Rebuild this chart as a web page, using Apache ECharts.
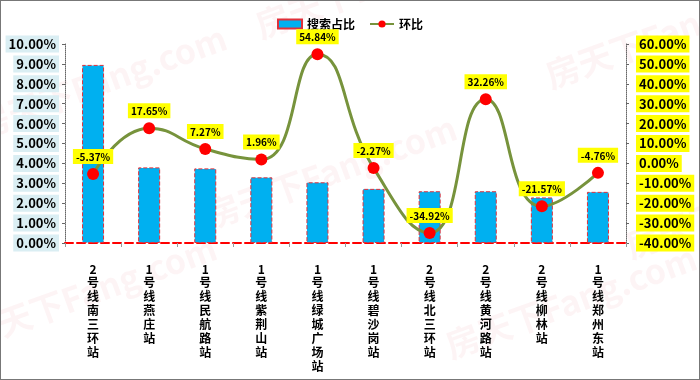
<!DOCTYPE html>
<html><head><meta charset="utf-8">
<script src="https://cdn.jsdelivr.net/npm/echarts@6/dist/echarts.min.js"></script>
<style>html,body{margin:0;padding:0;background:#fff}#c{width:700px;height:380px;box-sizing:border-box;border:1px solid #777}</style>
</head><body><div id="c"></div>
<script>
var categories = ['2号线南三环站','1号线燕庄站','1号线民航路站','1号线紫荆山站','1号线绿城广场站','1号线碧沙岗站','2号线北三环站','2号线黄河路站','2号线柳林站','1号线郑州东站'];
var shareValues = [8.95, 3.80, 3.75, 3.30, 3.05, 2.72, 2.60, 2.60, 2.29, 2.57];
var momValues = [-5.37, 17.65, 7.27, 1.96, 54.84, -2.27, -34.92, 32.26, -21.57, -4.76];
var seriesNames = ['搜索占比', '环比'];

var font = '"Noto Sans CJK SC", "DejaVu Sans", sans-serif';
var chart = echarts.init(document.getElementById('c'));
var wm = [];
var wmPos = [[-30,110],[250,10],[540,60],[200,200],[620,230],[-40,320],[440,330]];
wmPos.forEach(function(p){
  wm.push({type:'text', x:p[0], y:p[1], rotation:0.35, silent:true, z:-1,
    style:{text:'房天下Fang.com', fill:'rgba(230,120,130,0.08)', font:'bold 34px ' + font}});
});
chart.setOption({
  animation:false,
  graphic: wm,
  legend:{top:12, left:'center', itemGap:14, itemWidth:24, itemHeight:9,
    textStyle:{fontFamily:font, fontWeight:'bold', fontSize:12, color:'#000'},
    data:[{name:seriesNames[0], icon:'rect'}, {name:seriesNames[1]}]},
  grid:{left:64, right:73, top:43, bottom:136},
  xAxis:{type:'category', data:categories,
    axisLine:{lineStyle:{color:'#ff0000', width:2, type:'dashed'}},
    axisTick:{show:true, length:4, lineStyle:{color:'#999'}},
    axisLabel:{interval:0, margin:19, fontFamily:font, fontWeight:'bold', fontSize:12, color:'#000', lineHeight:13.9,
      formatter:function(v){return v.split('').join('\n');}}},
  yAxis:[
    {type:'value', min:0, max:10, interval:1, splitLine:{show:false},
      axisLine:{show:true, lineStyle:{color:'#666', type:'dotted'}},
      axisTick:{show:true, length:3, lineStyle:{color:'#666'}},
      axisLabel:{formatter:function(v){return v.toFixed(2)+'%';}, fontFamily:font, fontWeight:'bold', fontSize:13, color:'#000',
        backgroundColor:'#daeef3', padding:[2,3,2,3], margin:6}},
    {type:'value', min:-40, max:60, interval:10, splitLine:{show:false},
      axisLine:{show:true, lineStyle:{color:'#666', type:'dotted'}},
      axisTick:{show:true, length:3, lineStyle:{color:'#666'}},
      axisLabel:{formatter:function(v){return v.toFixed(2)+'%';}, fontFamily:font, fontWeight:'bold', fontSize:13, color:'#000',
        backgroundColor:'#ffff00', padding:[2,3,2,3], margin:10}}
  ],
  series:[
    {name:seriesNames[0], type:'bar', data:shareValues, barWidth:22, yAxisIndex:0,
      itemStyle:{color:'#00b0f0', borderColor:'#e0303a', borderWidth:1, borderType:'dashed'}},
    {name:seriesNames[1], type:'line', data:momValues, yAxisIndex:1, smooth:0.5,
      symbol:'circle', symbolSize:12, z:5,
      lineStyle:{color:'#77933c', width:3},
      itemStyle:{color:'#ff0000'},
      label:{show:true, position:'top', distance:4, formatter:function(p){return p.value.toFixed(2)+'%';},
        fontFamily:font, fontWeight:'bold', fontSize:10, color:'#000', backgroundColor:'#ffff00', padding:[3,3,2,3]}}
  ]
});
</script></body></html>
